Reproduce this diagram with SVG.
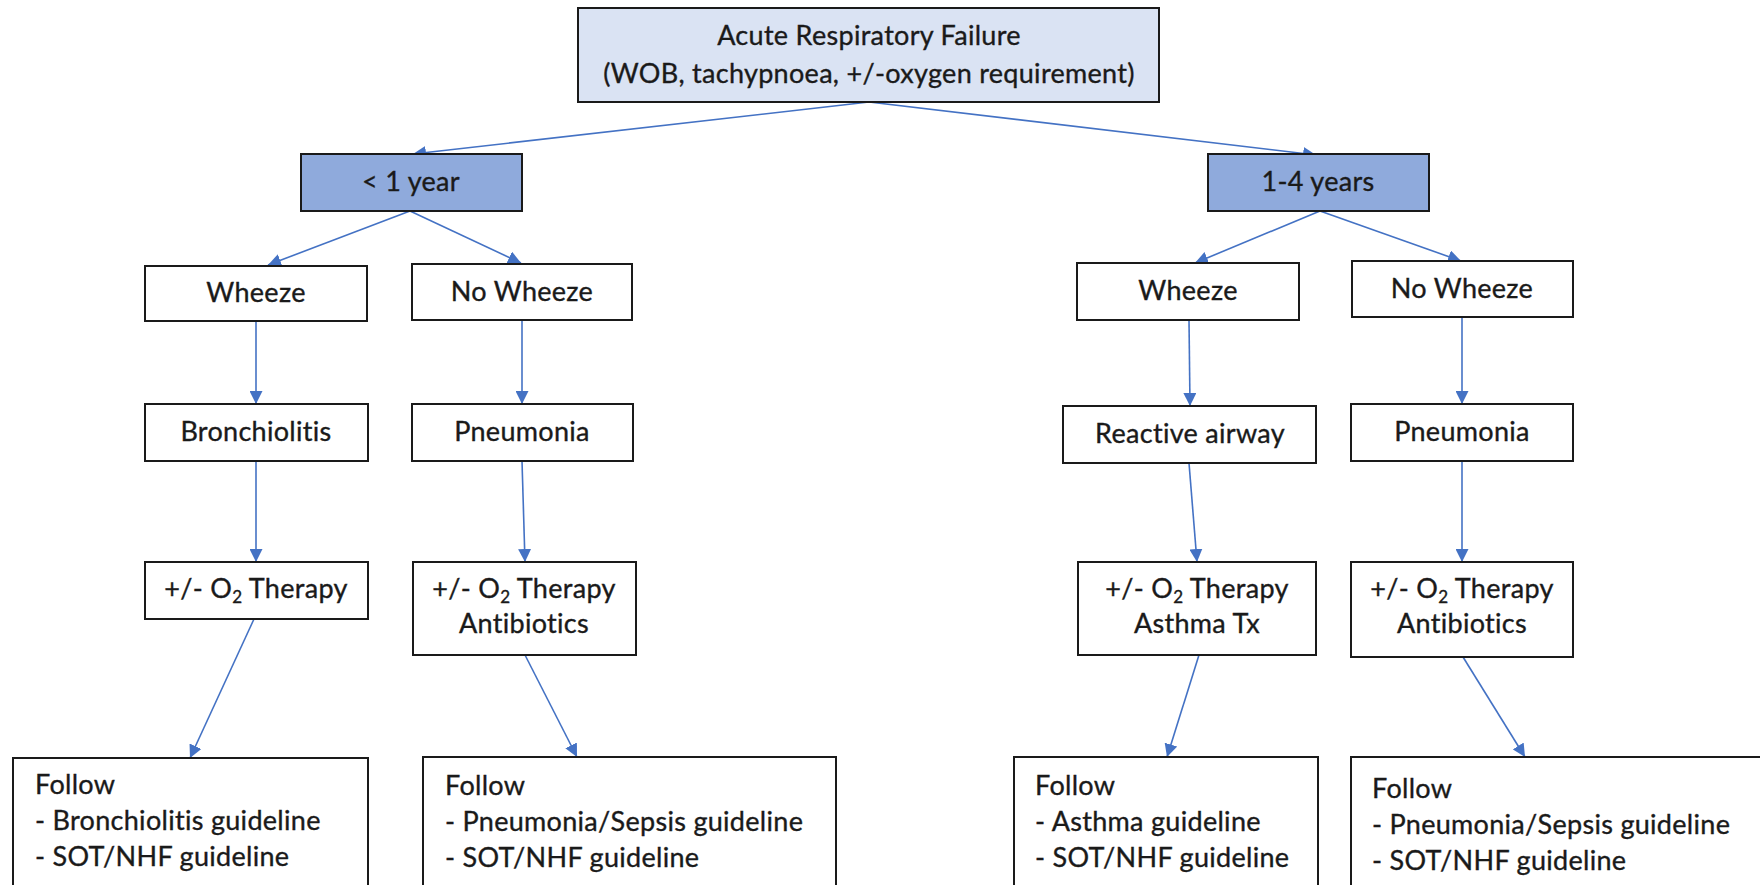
<svg xmlns="http://www.w3.org/2000/svg" width="1760" height="885" viewBox="0 0 1760 885">
<defs>
<marker id="ah" viewBox="0 0 10 10" markerWidth="13" markerHeight="13" refX="10" refY="5" orient="auto" markerUnits="userSpaceOnUse">
<path d="M0,0 L10,5 L0,10 z" fill="#4472C4"/>
</marker>
<style>
.box{fill:#fff;stroke:#1a1a1a;stroke-width:2}
.top{fill:#DAE3F3;stroke:#1a1a1a;stroke-width:2}
.age{fill:#8FAADC;stroke:#1a1a1a;stroke-width:2}
text{font-family:Lato,"Liberation Sans",sans-serif;font-size:27px;letter-spacing:0.3px;fill:#1a1a1a;stroke:#1a1a1a;stroke-width:0.35}
.c{text-anchor:middle}
.sub{font-size:17px}
.con line{stroke:#4472C4;stroke-width:1.6;marker-end:url(#ah)}
</style>
</defs>
<rect width="1760" height="885" fill="#fff"/>

<g class="con" id="connectors">
<line x1="869" y1="102" x2="413" y2="154"/>
<line x1="869" y1="102" x2="1316" y2="155"/>
<line x1="410" y1="211" x2="268" y2="265"/>
<line x1="410" y1="211" x2="521" y2="263"/>
<line x1="1320" y1="211" x2="1195" y2="263"/>
<line x1="1320" y1="211" x2="1461" y2="261"/>
<line x1="256" y1="321" x2="256" y2="404"/>
<line x1="522" y1="320" x2="522" y2="404"/>
<line x1="1189" y1="320" x2="1190" y2="406"/>
<line x1="1462" y1="317" x2="1462" y2="404"/>
<line x1="256" y1="461" x2="256" y2="562"/>
<line x1="522" y1="461" x2="525" y2="562"/>
<line x1="1189" y1="463" x2="1197" y2="562"/>
<line x1="1462" y1="461" x2="1462" y2="562"/>
<line x1="254" y1="619" x2="190" y2="758"/>
<line x1="525" y1="655" x2="577" y2="757"/>
<line x1="1199" y1="655" x2="1167" y2="757"/>
<line x1="1463" y1="657" x2="1525" y2="757"/>
</g>

<g id="n-arf">
<rect class="top" x="578" y="8" width="581" height="94"/>
<text class="c" x="869" y="45">Acute Respiratory Failure</text>
<text class="c" x="869" y="83">(WOB, tachypnoea, +/-oxygen requirement)</text>
</g>

<g id="n-lt1">
<rect class="age" x="301" y="154" width="221" height="57"/>
<text class="c" x="411" y="191">&lt; 1 year</text>
</g>
<g id="n-14">
<rect class="age" x="1208" y="154" width="221" height="57"/>
<text class="c" x="1318" y="191">1-4 years</text>
</g>

<g id="n-wheeze1">
<rect class="box" x="145" y="266" width="222" height="55"/>
<text class="c" x="256" y="302">Wheeze</text>
</g>
<g id="n-nowheeze1">
<rect class="box" x="412" y="264" width="220" height="56"/>
<text class="c" x="522" y="301">No Wheeze</text>
</g>
<g id="n-wheeze2">
<rect class="box" x="1077" y="263" width="222" height="57"/>
<text class="c" x="1188" y="300">Wheeze</text>
</g>
<g id="n-nowheeze2">
<rect class="box" x="1352" y="261" width="221" height="56"/>
<text class="c" x="1462" y="298">No Wheeze</text>
</g>

<g id="n-bronch">
<rect class="box" x="145" y="404" width="223" height="57"/>
<text class="c" x="256" y="441">Bronchiolitis</text>
</g>
<g id="n-pneu1">
<rect class="box" x="412" y="404" width="221" height="57"/>
<text class="c" x="522" y="441">Pneumonia</text>
</g>
<g id="n-reactive">
<rect class="box" x="1063" y="406" width="253" height="57"/>
<text class="c" x="1190" y="443">Reactive airway</text>
</g>
<g id="n-pneu2">
<rect class="box" x="1351" y="404" width="222" height="57"/>
<text class="c" x="1462" y="441">Pneumonia</text>
</g>

<g id="n-o2a">
<rect class="box" x="145" y="562" width="223" height="57"/>
<text class="c" x="256" y="598">+/- O<tspan class="sub" dy="5">2</tspan><tspan dy="-5"> Therapy</tspan></text>
</g>
<g id="n-o2b">
<rect class="box" x="413" y="562" width="223" height="93"/>
<text class="c" x="524" y="598">+/- O<tspan class="sub" dy="5">2</tspan><tspan dy="-5"> Therapy</tspan></text>
<text class="c" x="524" y="633">Antibiotics</text>
</g>
<g id="n-o2c">
<rect class="box" x="1078" y="562" width="238" height="93"/>
<text class="c" x="1197" y="598">+/- O<tspan class="sub" dy="5">2</tspan><tspan dy="-5"> Therapy</tspan></text>
<text class="c" x="1197" y="633">Asthma Tx</text>
</g>
<g id="n-o2d">
<rect class="box" x="1351" y="562" width="222" height="95"/>
<text class="c" x="1462" y="598">+/- O<tspan class="sub" dy="5">2</tspan><tspan dy="-5"> Therapy</tspan></text>
<text class="c" x="1462" y="633">Antibiotics</text>
</g>

<g id="n-follow1">
<rect class="box" x="13" y="758" width="355" height="140"/>
<text x="35" y="794">Follow</text>
<text x="35" y="830">- Bronchiolitis guideline</text>
<text x="35" y="866">- SOT/NHF guideline</text>
</g>
<g id="n-follow2">
<rect class="box" x="423" y="757" width="413" height="140"/>
<text x="445" y="795">Follow</text>
<text x="445" y="831">- Pneumonia/Sepsis guideline</text>
<text x="445" y="867">- SOT/NHF guideline</text>
</g>
<g id="n-follow3">
<rect class="box" x="1014" y="757" width="304" height="140"/>
<text x="1035" y="795">Follow</text>
<text x="1035" y="831">- Asthma guideline</text>
<text x="1035" y="867">- SOT/NHF guideline</text>
</g>
<g id="n-follow4">
<rect class="box" x="1351" y="757" width="440" height="140"/>
<text x="1372" y="798">Follow</text>
<text x="1372" y="834">- Pneumonia/Sepsis guideline</text>
<text x="1372" y="870">- SOT/NHF guideline</text>
</g>
</svg>
